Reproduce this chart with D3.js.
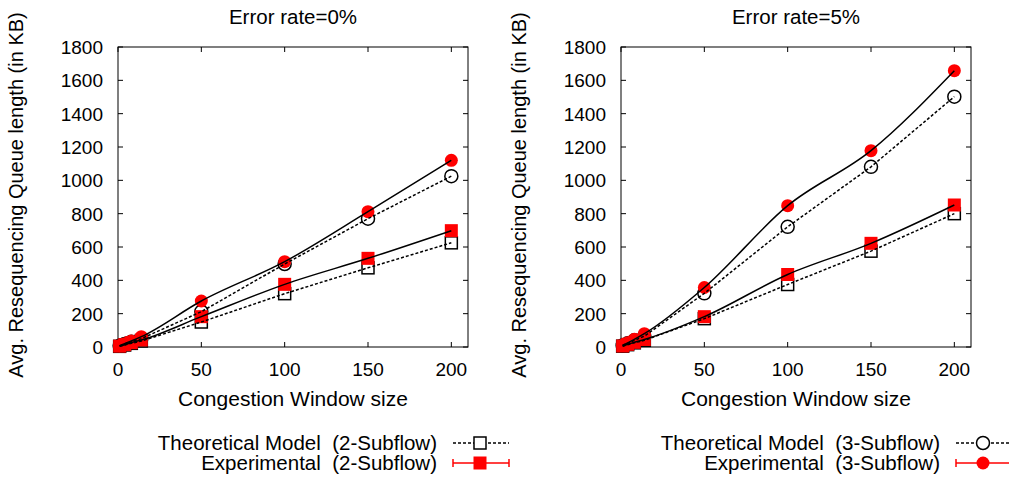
<!DOCTYPE html>
<html>
<head>
<meta charset="utf-8">
<script src="https://cdn.jsdelivr.net/npm/d3@7"></script>
<style>
  body { margin: 0; background: #fff; }
  text { font-family: "Liberation Sans", Arial, Helvetica, sans-serif; fill: #000; }
</style>
</head>
<body>
<svg id="chart"></svg>
<script>
const width = 1009;
const height = 478;

// window sizes on the x axis
const cwnd = [1, 4, 8, 14, 50, 100, 150, 200];

// Error rate = 0%
const theo2_0 = [4, 12, 22, 36, 150, 320, 475, 625];
const exp2_0 = [5, 14, 26, 42, 182, 376, 532, 698];
const theo3_0 = [7, 18, 32, 50, 212, 498, 770, 1025];
const exp3_0 = [8, 20, 36, 62, 276, 512, 812, 1120];

// Error rate = 5%
const theo2_5 = [5, 14, 25, 40, 170, 375, 575, 800];
const exp2_5 = [6, 16, 28, 45, 182, 435, 622, 852];
const theo3_5 = [9, 22, 40, 65, 322, 721, 1081, 1502];
const exp3_5 = [10, 25, 46, 80, 357, 848, 1178, 1658];

const xTicks = [0, 50, 100, 150, 200];
const yTicks = [0, 200, 400, 600, 800, 1000, 1200, 1400, 1600, 1800];

const panels = [
    { title: 'Error rate=0%', left: 118, theo2: theo2_0, exp2: exp2_0, theo3: theo3_0, exp3: exp3_0, legendTag: '2' },
    { title: 'Error rate=5%', left: 621, theo2: theo2_5, exp2: exp2_5, theo3: theo3_5, exp3: exp3_5, legendTag: '3' }
];

const svg = d3.select('#chart')
    .attr('width', width)
    .attr('height', height);

const plotW = 350;
const plotTop = 47;
const plotBottom = 347;

panels.forEach(p => {
    const g = svg.append('g');
    const x = d3.scaleLinear().domain([0, 210]).range([p.left, p.left + plotW]);
    const y = d3.scaleLinear().domain([0, 1800]).range([plotBottom, plotTop]);

    // frame
    g.append('rect')
        .attr('x', p.left).attr('y', plotTop)
        .attr('width', plotW).attr('height', plotBottom - plotTop)
        .attr('fill', 'none').attr('stroke', '#000').attr('stroke-width', 1);

    // inward ticks, mirrored
    xTicks.forEach(t => {
        g.append('line').attr('x1', x(t)).attr('x2', x(t)).attr('y1', plotBottom).attr('y2', plotBottom - 5).attr('stroke', '#000');
        g.append('line').attr('x1', x(t)).attr('x2', x(t)).attr('y1', plotTop).attr('y2', plotTop + 5).attr('stroke', '#000');
        g.append('text').attr('x', x(t)).attr('y', 376).attr('text-anchor', 'middle')
            .attr('font-size', 19).text(t);
    });
    yTicks.forEach(t => {
        g.append('line').attr('x1', p.left).attr('x2', p.left + 5).attr('y1', y(t)).attr('y2', y(t)).attr('stroke', '#000');
        g.append('line').attr('x1', p.left + plotW).attr('x2', p.left + plotW - 5).attr('y1', y(t)).attr('y2', y(t)).attr('stroke', '#000');
        g.append('text').attr('x', p.left - 15).attr('y', y(t) + 7).attr('text-anchor', 'end')
            .attr('font-size', 19).text(t);
    });

    // titles
    g.append('text').attr('x', p.left + plotW / 2).attr('y', 24).attr('text-anchor', 'middle')
        .attr('font-size', 20.5).text(p.title);
    g.append('text').attr('x', p.left + plotW / 2).attr('y', 406).attr('text-anchor', 'middle')
        .attr('font-size', 21).text('Congestion Window size');
    g.append('text')
        .attr('transform', `translate(${p.left - 95},195) rotate(-90)`)
        .attr('text-anchor', 'middle').attr('font-size', 20)
        .text('Avg. Resequencing Queue length (in KB)');

    const line = d3.line().x((d, i) => x(cwnd[i])).y(d => y(d));
    const smooth = d3.line().x((d, i) => x(cwnd[i])).y(d => y(d)).curve(d3.curveMonotoneX);

    // open markers (theoretical)
    p.theo2.forEach((v, i) => {
        g.append('rect').attr('x', x(cwnd[i]) - 6).attr('y', y(v) - 6).attr('width', 12).attr('height', 12)
            .attr('fill', 'none').attr('stroke', '#000').attr('stroke-width', 1.5);
    });
    p.theo3.forEach((v, i) => {
        g.append('circle').attr('cx', x(cwnd[i])).attr('cy', y(v)).attr('r', 6.5)
            .attr('fill', 'none').attr('stroke', '#000').attr('stroke-width', 1.5);
    });

    // filled markers (experimental)
    p.exp2.forEach((v, i) => {
        g.append('rect').attr('x', x(cwnd[i]) - 6.5).attr('y', y(v) - 6.5).attr('width', 13).attr('height', 13)
            .attr('fill', '#ff0000');
    });
    p.exp3.forEach((v, i) => {
        g.append('circle').attr('cx', x(cwnd[i])).attr('cy', y(v)).attr('r', 6.5)
            .attr('fill', '#ff0000');
    });

    // lines on top
    [p.theo2, p.theo3].forEach(s => {
        g.append('path').attr('d', line(s)).attr('fill', 'none').attr('stroke', '#000')
            .attr('stroke-width', 1.5).attr('stroke-dasharray', '3,2');
    });
    [p.exp2, p.exp3].forEach(s => {
        g.append('path').attr('d', smooth(s)).attr('fill', 'none').attr('stroke', '#000')
            .attr('stroke-width', 1.5);
    });

    // legend
    const lx = p.left + 319;
    const rows = [
        { label: `Theoretical Model  (${p.legendTag}-Subflow)`, y: 443 },
        { label: `Experimental  (${p.legendTag}-Subflow)`, y: 463 }
    ];
    rows.forEach(r => {
        g.append('text').attr('x', lx).attr('y', r.y + 7).attr('text-anchor', 'end')
            .attr('font-size', 20.5).style('white-space', 'pre').text(r.label);
    });
    const sx1 = lx + 16, sx2 = lx + 72, sm = lx + 43;
    g.append('line').attr('x1', sx1).attr('x2', sx2).attr('y1', 443).attr('y2', 443)
        .attr('stroke', '#000').attr('stroke-width', 1.5).attr('stroke-dasharray', '3,2');
    if (p.legendTag === '2') {
        g.append('rect').attr('x', sm - 6).attr('y', 437).attr('width', 12).attr('height', 12)
            .attr('fill', '#fff').attr('stroke', '#000').attr('stroke-width', 1.5);
    } else {
        g.append('circle').attr('cx', sm).attr('cy', 443).attr('r', 6.5)
            .attr('fill', '#fff').attr('stroke', '#000').attr('stroke-width', 1.5);
    }
    g.append('line').attr('x1', sx1).attr('x2', sx2).attr('y1', 463).attr('y2', 463)
        .attr('stroke', '#ff0000').attr('stroke-width', 1.5);
    [sx1, sx2].forEach(cx => {
        g.append('line').attr('x1', cx).attr('x2', cx).attr('y1', 459).attr('y2', 467)
            .attr('stroke', '#ff0000').attr('stroke-width', 1.5);
    });
    if (p.legendTag === '2') {
        g.append('rect').attr('x', sm - 6.5).attr('y', 456.5).attr('width', 13).attr('height', 13)
            .attr('fill', '#ff0000');
    } else {
        g.append('circle').attr('cx', sm).attr('cy', 463).attr('r', 6.5).attr('fill', '#ff0000');
    }
});
</script>
</body>
</html>
